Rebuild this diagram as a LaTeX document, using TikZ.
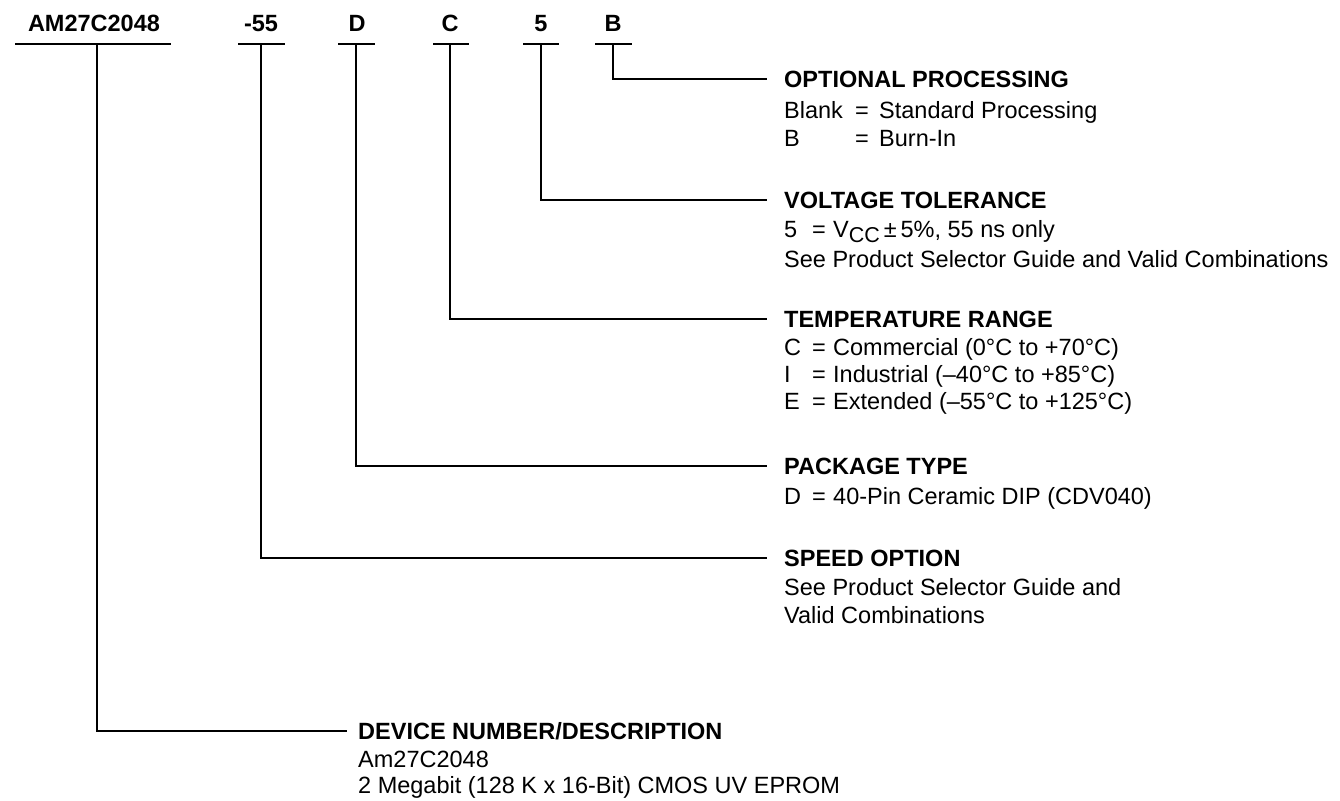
\documentclass[tikz,border=0pt]{standalone}
\usepackage{fontspec}
\setmainfont{Liberation Sans}
\newcommand{\vccsub}{V\raisebox{-0.24em}{\fontsize{21.5}{22}\selectfont CC}}
\begin{document}
\begin{tikzpicture}[x=1pt,y=-1pt,
  lbl/.style={font=\fontsize{23.5}{28}\selectfont\bfseries, anchor=base, inner sep=0pt},
  hdr/.style={font=\fontsize{23.5}{28}\selectfont\bfseries, anchor=base west, inner sep=0pt},
  body/.style={font=\fontsize{23.5}{28}\selectfont, anchor=base west, inner sep=0pt},
  bar/.style={line width=2.7pt},
  conn/.style={line width=2.7pt}]
\useasboundingbox (0,0) rectangle (1340,800);

% part number fields
\node[lbl] (pAM) at (94,32) {AM27C2048};
\node[lbl] (pSp) at (261,32) {-55};
\node[lbl] (pD)  at (357,32) {D};
\node[lbl] (pC)  at (450,32) {C};
\node[lbl] (p5)  at (541,32) {5};
\node[lbl] (pB)  at (613,32) {B};

% bars under fields
\draw[bar] (15,44) coordinate (aAM1) -- (171,44) coordinate (aAM2);
\draw[bar] (238,44) coordinate (aSp1) -- (285,44) coordinate (aSp2);
\draw[bar] (338,44) coordinate (aD1) -- (375,44) coordinate (aD2);
\draw[bar] (433,44) coordinate (aC1) -- (469,44) coordinate (aC2);
\draw[bar] (523,44) coordinate (a51) -- (559,44) coordinate (a52);
\draw[bar] (595,44) coordinate (aB1) -- (632,44) coordinate (aB2);

\coordinate (sAM) at (97,44);
\coordinate (sSp) at (261,44);
\coordinate (sD)  at (356,44);
\coordinate (sC)  at (450,44);
\coordinate (s5)  at (541,44);
\coordinate (sB)  at (613,44);

% line ends
\coordinate (eB)  at (767,79);
\coordinate (e5)  at (767,200);
\coordinate (eC)  at (767,319);
\coordinate (eD)  at (767,466);
\coordinate (eSp) at (767,558);
\coordinate (eAM) at (347,731);

% connectors
\draw[conn] (sB)  |- (eB);
\draw[conn] (s5)  |- (e5);
\draw[conn] (sC)  |- (eC);
\draw[conn] (sD)  |- (eD);
\draw[conn] (sSp) |- (eSp);
\draw[conn] (sAM) |- (eAM);

% OPTIONAL PROCESSING
\node[hdr]  (hB) at (784,87) {OPTIONAL PROCESSING};
\node[body] (b1k) at (784,118) {Blank};
\node[body] (b1e) at (855,118) {=};
\node[body] (b1t) at (879,118) {Standard Processing};
\node[body] (b2k) at (784,146) {B};
\node[body] (b2e) at (855,146) {=};
\node[body] (b2t) at (879,146) {Burn-In};

% VOLTAGE TOLERANCE
\node[hdr]  (h5) at (784,208) {VOLTAGE TOLERANCE};
\node[body] (v1k) at (784,237) {5};
\node[body] (v1e) at (812,237) {=};
\node[body] (v1t) at (833,237) {\vccsub\,±\,5\%, 55 ns only};
\node[body] (v2)  at (784,267) {See Product Selector Guide and Valid Combinations};

% TEMPERATURE RANGE
\node[hdr]  (hC) at (784,327) {TEMPERATURE RANGE};
\node[body] (t1k) at (784,355) {C};
\node[body] (t1e) at (812,355) {=};
\node[body] (t1t) at (833,355) {Commercial (0°C to +70°C)};
\node[body] (t2k) at (784,382) {I};
\node[body] (t2e) at (812,382) {=};
\node[body] (t2t) at (833,382) {Industrial (–40°C to +85°C)};
\node[body] (t3k) at (784,409) {E};
\node[body] (t3e) at (812,409) {=};
\node[body] (t3t) at (833,409) {Extended (–55°C to +125°C)};

% PACKAGE TYPE
\node[hdr]  (hD) at (784,474) {PACKAGE TYPE};
\node[body] (k1k) at (784,504) {D};
\node[body] (k1e) at (812,504) {=};
\node[body] (k1t) at (833,504) {40-Pin Ceramic DIP (CDV040)};

% SPEED OPTION
\node[hdr]  (hSp) at (784,566) {SPEED OPTION};
\node[body] (s1) at (784,595) {See Product Selector Guide and};
\node[body] (s2) at (784,623) {Valid Combinations};

% DEVICE NUMBER/DESCRIPTION
\node[hdr]  (hAM) at (358,739) {DEVICE NUMBER/DESCRIPTION};
\node[body] (d1) at (358,767) {Am27C2048};
\node[body] (d2) at (358,793) {2 Megabit (128 K x 16-Bit) CMOS UV EPROM};
\end{tikzpicture}
\end{document}
